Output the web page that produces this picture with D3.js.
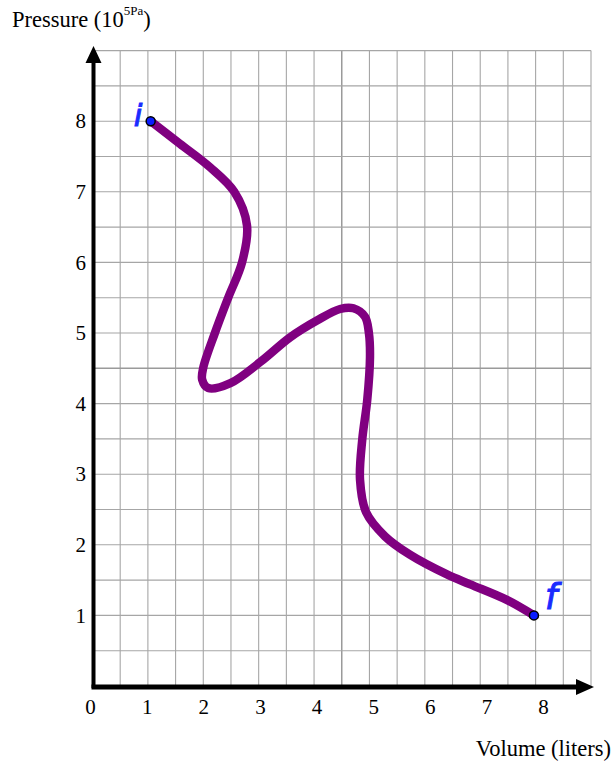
<!DOCTYPE html>
<html>
<head>
<meta charset="utf-8">
<script src="https://cdn.jsdelivr.net/npm/d3@7"></script>
<style>
  html, body { margin: 0; padding: 0; background: #fff; }
  svg { display: block; }
  .tick text { font-family: "Liberation Serif", "Times New Roman", serif; font-size: 21px; fill: #000; }
</style>
</head>
<body>
<svg id="chart" width="616" height="763"></svg>
<script>
// Path of the process on the P–V diagram (volume in liters, pressure in 10^5 Pa)
const pathVolume = [1.05, 1.58, 2.12, 2.56, 2.79, 2.70, 2.45, 2.21, 2.00, 1.98, 2.09, 2.49, 3.03, 3.57, 4.06, 4.47, 4.71, 4.92, 4.99, 5.01, 4.96, 4.87, 4.83, 4.94, 5.28, 5.73, 6.40, 6.82, 7.48, 7.97];
const pathPressure = [8.00, 7.68, 7.35, 7.00, 6.52, 6.00, 5.50, 5.00, 4.51, 4.34, 4.22, 4.29, 4.59, 4.94, 5.18, 5.34, 5.35, 5.23, 5.00, 4.66, 4.05, 3.49, 2.92, 2.46, 2.12, 1.86, 1.58, 1.44, 1.22, 1.00];

// Initial and final states
const stateNames = ["i", "f"];
const stateVolume = [1.05, 7.97];
const statePressure = [8.00, 1.00];

// Axis tick labels
const volumeTicks = [0, 1, 2, 3, 4, 5, 6, 7, 8];
const pressureTicks = [1, 2, 3, 4, 5, 6, 7, 8];

// Half-unit graph-paper grid
const gridSteps = d3.range(0, 9.01, 0.5);

const svg = d3.select("#chart");

const x = d3.scaleLinear().domain([0, 9]).range([92.5, 591]);
const y = d3.scaleLinear().domain([0, 9]).range([686, 50.6]);
// volume labels sit on a slightly wider spacing than the grid
const xLabel = d3.scaleLinear().domain([0, 8]).range([90, 543]);

// grid
const grid = svg.append("g");
grid.selectAll("line.v").data(gridSteps.filter(d => d > 0)).join("line")
  .attr("x1", d => x(d)).attr("x2", d => x(d))
  .attr("y1", y(9)).attr("y2", y(0))
  .attr("stroke", d => d === 4.5 ? "#9a9a9a" : "#a6a6a6")
  .attr("stroke-width", d => d === 4.5 ? 1.5 : 1.1);
grid.selectAll("line.h").data(gridSteps.filter(d => d > 0)).join("line")
  .attr("x1", x(0)).attr("x2", x(9))
  .attr("y1", d => y(d)).attr("y2", d => y(d))
  .attr("stroke", d => d === 4.5 ? "#9a9a9a" : "#a6a6a6")
  .attr("stroke-width", d => d === 4.5 ? 1.5 : 1.1);

// axes with arrowheads
const axes = svg.append("g");
axes.append("line")
  .attr("x1", x(0) + 1).attr("x2", x(0) + 1)
  .attr("y1", y(0) + 2).attr("y2", 60)
  .attr("stroke", "#000").attr("stroke-width", 4);
axes.append("path")
  .attr("d", `M${x(0) + 1},46 L${x(0) + 9},63 L${x(0) - 7},63 Z`)
  .attr("fill", "#000");
axes.append("line")
  .attr("x1", x(0) - 1).attr("x2", 580)
  .attr("y1", y(0) + 1).attr("y2", y(0) + 1)
  .attr("stroke", "#000").attr("stroke-width", 5);
axes.append("path")
  .attr("d", `M594,${y(0) + 1} L576,${y(0) - 7} L576,${y(0) + 9} Z`)
  .attr("fill", "#000");

// tick labels
svg.append("g")
  .attr("transform", `translate(0,${y(0) + 8})`)
  .call(d3.axisBottom(xLabel).tickValues(volumeTicks).tickSize(0).tickPadding(5).tickFormat(d3.format("d")))
  .call(g => g.select(".domain").remove());
svg.append("g")
  .attr("transform", `translate(86,0)`)
  .call(d3.axisLeft(y).tickValues(pressureTicks).tickSize(0).tickPadding(0).tickFormat(d3.format("d")))
  .call(g => g.select(".domain").remove());

// axis titles
const title = svg.append("text")
  .attr("x", 12).attr("y", 27)
  .attr("font-family", "Liberation Serif, Times New Roman, serif")
  .attr("font-size", 22.5);
title.append("tspan").text("Pressure (10");
title.append("tspan").attr("dy", -12).attr("font-size", 13).text("5Pa");
title.append("tspan").attr("dy", 12).text(")");

svg.append("text")
  .attr("x", 611).attr("y", 756)
  .attr("text-anchor", "end")
  .attr("font-family", "Liberation Serif, Times New Roman, serif")
  .attr("font-size", 22.5)
  .text("Volume (liters)");

// process curve
const pts = pathVolume.map((v, k) => [v, pathPressure[k]]);
svg.append("path")
  .datum(pts)
  .attr("d", d3.line().x(d => x(d[0])).y(d => y(d[1])).curve(d3.curveCatmullRom.alpha(0.5)))
  .attr("fill", "none")
  .attr("stroke", "#800080")
  .attr("stroke-width", 8.5)
  .attr("stroke-linecap", "round")
  .attr("stroke-linejoin", "round");

// state markers
const states = stateNames.map((n, k) => ({ name: n, v: stateVolume[k], p: statePressure[k] }));
svg.selectAll("circle.state").data(states).join("circle")
  .attr("cx", d => x(d.v)).attr("cy", d => y(d.p)).attr("r", 4.5)
  .attr("fill", "#0a1cff").attr("stroke", "#000").attr("stroke-width", 1.5);

svg.selectAll("text.state").data(states).join("text")
  .attr("x", d => x(d.v) + (d.name === "i" ? -17 : 11))
  .attr("y", d => y(d.p) + (d.name === "i" ? 5 : -6))
  .attr("font-family", "DejaVu Sans, sans-serif")
  .attr("font-style", "italic")
  .attr("font-size", d => d.name === "i" ? 31 : 35)
  .attr("fill", "#1a2bff")
  .attr("stroke", "#1a2bff")
  .attr("stroke-width", 1)
  .text(d => d.name);
</script>
</body>
</html>
